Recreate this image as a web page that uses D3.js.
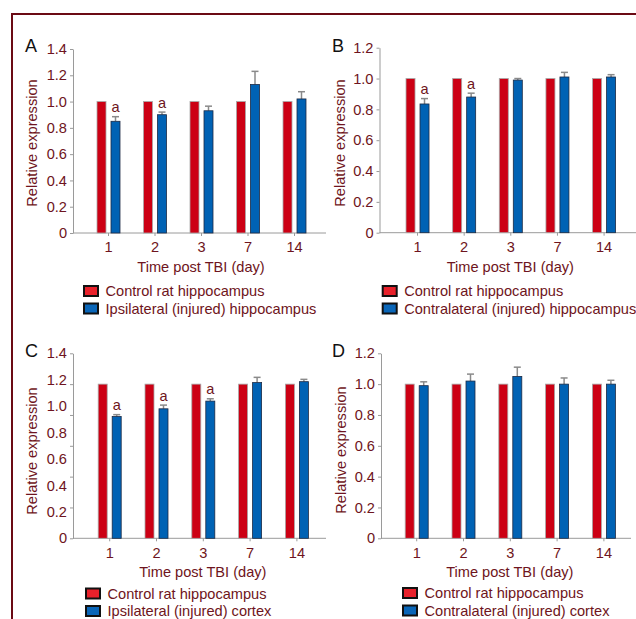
<!DOCTYPE html>
<html>
<head>
<meta charset="utf-8">
<script src="https://cdn.jsdelivr.net/npm/d3@7"></script>
<style>
  body { margin: 0; background: #fff; }
  svg { display: block; }
</style>
</head>
<body>
<div id="chart"></div>
<script>
// data
const days = ["1", "2", "3", "7", "14"];
const controlValues = [1, 1, 1, 1, 1];

const ipsiHippo = [0.85, 0.90, 0.93, 1.13, 1.02];
const ipsiHippoErr = [0.035, 0.02, 0.035, 0.10, 0.055];
const ipsiHippoSig = [true, true, false, false, false];

const contraHippo = [0.835, 0.88, 0.99, 1.01, 1.01];
const contraHippoErr = [0.035, 0.025, 0.01, 0.03, 0.015];
const contraHippoSig = [true, true, false, false, false];

const ipsiCortex = [0.79, 0.84, 0.89, 1.01, 1.016];
const ipsiCortexErr = [0.012, 0.024, 0.015, 0.034, 0.015];
const ipsiCortexSig = [true, true, true, false, false];

const contraCortex = [0.99, 1.02, 1.05, 1.0, 1.0];
const contraCortexErr = [0.025, 0.045, 0.06, 0.04, 0.025];
const contraCortexSig = [false, false, false, false, false];

const legendControl = "Control rat hippocampus";
const legendA = "Ipsilateral (injured) hippocampus";
const legendB = "Contralateral (injured) hippocampus";
const legendC = "Ipsilateral (injured) cortex";
const legendD = "Contralateral (injured) cortex";

const width = 636, height = 619;
const textColor = "#6e1420";
const axisColor = "#9a9a9a";
const redBar = "#cc0014", blueBar = "#0062b4";
const redSwatch = "#e8212b", blueSwatch = "#0a66b8";
const font = "'Liberation Sans', Arial, sans-serif";
const fs = 14.6;

const panels = [
  { letter: "A", letterX: 25, letterY: 52, axisX: 73, y0: 233, yTop: 49, yMax: 1.4, labelMax: 1.4,
    bandL: 85.25, bandR: 317.75, axisEnd: 326, ylabX: 37, ylabY: 143, legX: 83, legY: 285,
    values: ipsiHippo, err: ipsiHippoErr, sig: ipsiHippoSig, legend: legendA },
  { letter: "B", letterX: 332, letterY: 52, axisX: 379.5, y0: 232.7, yTop: 47.7, yMax: 1.2, labelMax: 1.2,
    bandL: 394.2, bandR: 627.4, axisEnd: 640, ylabX: 345, ylabY: 143, legX: 381.7, legY: 285,
    values: contraHippo, err: contraHippoErr, sig: contraHippoSig, legend: legendB },
  { letter: "C", letterX: 25, letterY: 357, axisX: 73, y0: 538.3, yTop: 353.3, yMax: 1.2, labelMax: 1.4,
    bandL: 86.3, bandR: 320.3, axisEnd: 326, ylabX: 37, ylabY: 451, legX: 85, legY: 587.5,
    values: ipsiCortex, err: ipsiCortexErr, sig: ipsiCortexSig, legend: legendC },
  { letter: "D", letterX: 332, letterY: 357, axisX: 381, y0: 538.3, yTop: 353.3, yMax: 1.2, labelMax: 1.2,
    bandL: 393.3, bandR: 627.3, axisEnd: 631, ylabX: 346, ylabY: 450, legX: 402, legY: 587,
    values: contraCortex, err: contraCortexErr, sig: contraCortexSig, legend: legendD }
];

const svg = d3.select("#chart").append("svg")
  .attr("width", width).attr("height", height)
  .attr("font-family", font);

// frame
svg.append("line").attr("x1", 11).attr("x2", width).attr("y1", 14).attr("y2", 14)
  .attr("stroke", "#6b0a14").attr("stroke-width", 2);
svg.append("line").attr("x1", 12).attr("x2", 12).attr("y1", 13).attr("y2", height)
  .attr("stroke", "#6b0a14").attr("stroke-width", 2);

const fmt = d => d === 0 ? "0" : d.toFixed(1);
const barW = 9, gap = 2.5;

panels.forEach(p => {
  const g = svg.append("g");

  const y = d3.scaleLinear().domain([0, p.yMax]).range([p.y0, p.yTop]);
  const yLab = d3.scaleLinear().domain([0, p.labelMax]).range([p.y0, p.yTop]);
  const x = d3.scaleBand().domain(days).range([p.bandL, p.bandR]);
  const cx = d => x(d) + x.bandwidth() / 2;

  // y tick marks + axis line
  const yTicks = g.append("g")
    .attr("transform", `translate(${p.axisX},0)`)
    .call(d3.axisLeft(y).tickValues(d3.range(0, p.yMax + 0.001, 0.2)).tickSize(3).tickSizeOuter(0).tickFormat(""));
  yTicks.select(".domain").attr("stroke", axisColor);
  yTicks.selectAll(".tick line").attr("stroke", axisColor);

  // y tick labels
  const yLabels = g.append("g")
    .attr("transform", `translate(${p.axisX},0)`)
    .call(d3.axisLeft(yLab).tickValues(d3.range(0, p.labelMax + 0.001, 0.2)).tickSize(0).tickPadding(6).tickFormat(fmt));
  yLabels.select(".domain").remove();
  yLabels.selectAll("text").attr("fill", textColor).attr("font-size", fs).attr("font-family", font);

  // x axis
  g.append("line")
    .attr("x1", p.axisX).attr("x2", p.axisEnd).attr("y1", p.y0).attr("y2", p.y0)
    .attr("stroke", axisColor);
  const xAxis = g.append("g")
    .attr("transform", `translate(0,${p.y0})`)
    .call(d3.axisBottom(x).tickSize(3).tickSizeOuter(0).tickPadding(6));
  xAxis.select(".domain").remove();
  xAxis.selectAll(".tick line").attr("stroke", axisColor);
  xAxis.selectAll("text").attr("fill", textColor).attr("font-size", fs).attr("font-family", font);

  // control bars
  g.selectAll(".ctrl").data(days).enter().append("rect")
    .attr("x", d => cx(d) - gap - barW)
    .attr("y", (d, i) => y(controlValues[i]))
    .attr("width", barW)
    .attr("height", (d, i) => p.y0 - y(controlValues[i]))
    .attr("fill", redBar).attr("stroke", "#a8a8a8").attr("stroke-width", 0.8);

  // error bars
  const eb = g.selectAll(".err").data(days).enter().append("g");
  eb.append("line")
    .attr("x1", d => cx(d) + gap + barW / 2).attr("x2", d => cx(d) + gap + barW / 2)
    .attr("y1", (d, i) => y(p.values[i])).attr("y2", (d, i) => y(p.values[i] + p.err[i]))
    .attr("stroke", "#8a8a8a").attr("stroke-width", 1.5);
  eb.append("line")
    .attr("x1", d => cx(d) + gap + barW / 2 - 3.5).attr("x2", d => cx(d) + gap + barW / 2 + 3.5)
    .attr("y1", (d, i) => y(p.values[i] + p.err[i])).attr("y2", (d, i) => y(p.values[i] + p.err[i]))
    .attr("stroke", "#8a8a8a").attr("stroke-width", 1.5);

  // treatment bars
  g.selectAll(".treat").data(days).enter().append("rect")
    .attr("x", d => cx(d) + gap)
    .attr("y", (d, i) => y(p.values[i]))
    .attr("width", barW)
    .attr("height", (d, i) => p.y0 - y(p.values[i]))
    .attr("fill", blueBar).attr("stroke", "#1c2a44").attr("stroke-width", 0.8);

  // significance letters
  g.selectAll(".sig").data(days.filter((d, i) => p.sig[i])).enter().append("text")
    .attr("x", d => cx(d) + gap + barW / 2)
    .attr("y", d => { const i = days.indexOf(d); return y(p.values[i] + p.err[i]) - 4.5; })
    .attr("text-anchor", "middle")
    .attr("fill", textColor).attr("font-size", fs)
    .text("a");

  // panel letter
  g.append("text").attr("x", p.letterX).attr("y", p.letterY)
    .attr("font-size", 18).attr("fill", "#111").text(p.letter);

  // axis titles
  g.append("text")
    .attr("transform", `translate(${p.ylabX},${p.ylabY}) rotate(-90)`)
    .attr("text-anchor", "middle").attr("fill", textColor).attr("font-size", fs)
    .text("Relative expression");
  g.append("text")
    .attr("x", (x.range()[0] + x.range()[1]) / 2 - 0.5)
    .attr("y", p.y0 + 39)
    .attr("text-anchor", "middle").attr("fill", textColor).attr("font-size", fs)
    .text("Time post TBI (day)");

  // legend
  const legendItems = [
    { label: legendControl, color: redSwatch },
    { label: p.legend, color: blueSwatch }
  ];
  const lg = g.selectAll(".leg").data(legendItems).enter().append("g")
    .attr("transform", (d, i) => `translate(${p.legX},${p.legY + i * 17.5})`);
  lg.append("rect").attr("x", 1).attr("y", 1).attr("width", 14).attr("height", 10)
    .attr("fill", d => d.color).attr("stroke", "#111").attr("stroke-width", 2);
  lg.append("text").attr("x", 22.5).attr("y", 11)
    .attr("fill", textColor).attr("font-size", fs)
    .text(d => d.label);
});
</script>
</body>
</html>
